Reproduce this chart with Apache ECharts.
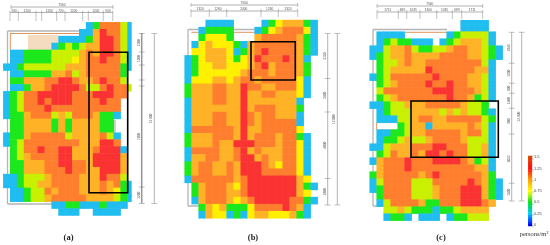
<!DOCTYPE html>
<html><head><meta charset="utf-8">
<style>html,body{margin:0;padding:0;background:#fff}#c{width:550px;height:245px}</style>
<script src="https://cdn.jsdelivr.net/npm/echarts@6/dist/echarts.min.js"></script>
</head><body><div id="c"></div>
<script>
// Density classes (persons/m2)
const levelValues = {B:0.3, G:0.5, L:0.62, Y:0.72, A:0.88, O:1.1, R:1.3};
const panelA = [
"............BGOOOLB",
"...........BBAROOLB",
"........BBBBGARROLB",
".......BGLGLAARROLB",
".BBGGGGLLLLAOARROLB",
".BBGGGGLLLYAOOROOLB",
"BBGLLLLLLAAAOOOOOGB",
".BBGGGGAAOLAOOOOOG.",
".GGAAAOORROAAOROOL.",
".BBGAAORRRROLLOROOL",
"BGLOORRRRROOORRROO.",
"BGLOORORRROOOOROO..",
"BGLOOOROOOOOOOOOO..",
"BGGAOOOLALOOOAGGB..",
".GGAAAAGAGAAAAGG...",
".GGAAAAGAGAAAAGG...",
"BGGAOOOOOLAAAAOLB..",
"BGLOOOOOOOOAAARRO..",
".GLOOROORRAAAORRRB.",
".GLAOOOORRAAARRRRA.",
".GGAAAOORROOARRRRA.",
".GGAAAOOOROOAARRRA.",
"BBGLLLAOOOOAAAROOL.",
"BBGLLAAOOOOAAAOAOGB",
".BBGLLOAOOOAAAOAYGB",
".BBGLLAOOOOOAAAALGB",
".......BBGGBBBGBBB.",
"........BBB..BBBB.."];
const panelB = [
"...BBBB....BGYAAAGB",
"..BGGGG...BGYAOOOYB",
"..GYYYG...AOOOOOAGB",
".BYAYYYGBAOOOOOOAGB",
".YYAAAYBGAOROOOOAGB",
"BGYAAAYGYAROOOROAB.",
"BGYYAAYYYAORAOOOAG.",
"BGYYYYYYAOOOAOOOAG.",
"BYYYAAYAOOAOOOOOYB.",
"GAAAOOAAROOAAOOOYB.",
"GAAAOOAARAAOOAAAYB.",
"BAAAOOAARAAAAAAAB..",
"BAAAAAAARAOOOAAAG..",
"BAAAOOAAROAOOAAAB..",
"BAAAOOAAROAOOOOOB..",
"BOOOOOOARAAOOOOOY..",
"GAAAOOOARAOOOAOOGB.",
"GAAAOAARRROOOAOOYB.",
"BOOOOAAORAOAAAOOYB.",
"BAAOOAAORRAOAAOOYB.",
"GAOOAAOARRROAYOOYB.",
"GAOOAAOARRROOOOOYB.",
"BOOOOOOAORRRRRRRAY.",
".GAOOOAYORRRRRRRAGB",
".GAOOOAAORRRRRRRAY.",
".BAOOOAYAORRRRROOGB",
"..GAYAGGGYOOOOROAB.",
"..BAYYBGBYAAYYYAGB."];
const panelC = [
".............BBBB..",
".............BBBB..",
".BBBB......BGLLLLB.",
".BGLGGBBB.BGLAAALB.",
"BBLAAOLGGLLAOOAALGB",
"BGLAAOAAAAOOOOAALGB",
".GLLAOAAOOOOOOOOLB.",
".GLAAAAAROOOOOOAAB.",
"BGLOOOOOOROOOOAALB.",
".GLAOOOOROOROOAALB.",
".LOOOOOOORRROOOALB.",
".GLAOOOOOOOROOAGLB.",
"BBGLLAAAOOOOOALLG..",
".BGLLLAAAALALALLGB.",
".BBBLLAOOAAOOOOOLG.",
"....GLAABAAAAAOALB.",
".BBGGLAAOOOOOAOOLB.",
".BGGLALLAOOOOALLLB.",
"BBLAAAOOORROOOLLAB.",
".GLOAAOARROROOLLAB.",
"BAOOOROOORRRROAGLB.",
".AOOOROOOOOOOOOAAB.",
"GAOOOOOAOROOOOOOAG.",
"BLOOOOLLLOOOOOROAGB",
"BGOOOOLLLAOOORRRAGB",
".GOOOOLLLAOOORRRAGB",
".BLOOOOAGGOOORRROA.",
"..LLALGGGBGGLAAAA..",
"..BGGB.BBB.BGGLLL.."];
const colorbarValues = [0,0.05,0.1,0.15,0.2,0.25,0.3,0.35,0.4,0.45,0.5,0.55,0.6,0.65,0.7,0.75,0.8,0.85,0.9,0.95,1,1.05,1.1,1.15,1.2,1.25,1.3,1.35,1.4,1.45,1.5];
const colorbarTicks = ["0","0.25","0.5","0.75","1","1.25","1.5"];
const panelLabels = ["(a)","(b)","(c)"];
const unitLabel = "persons/m²";

const cols = Array.from({length:19},(_,i)=>i);
function cells(rows){
  const out=[];
  rows.forEach((r,y)=>{[...r].forEach((ch,x)=>{ if(levelValues[ch]) out.push([x,y,levelValues[ch]]); });});
  return out;
}
const rowsOf = p => p.map((_,i)=>i);
const panels=[[panelA,3.33,22.3,131.1,193.2],[panelB,184.67,20,133,198.3],[panelC,369.67,17.67,133,203]];
const grids=[],xAxes=[],yAxes=[],series=[];
panels.forEach((p,i)=>{
  grids.push({left:p[1],top:p[2],width:p[3],height:p[4],containLabel:false});
  xAxes.push({gridIndex:i,type:'category',data:cols,show:false,splitArea:{show:false}});
  yAxes.push({gridIndex:i,type:'category',data:rowsOf(p[0]),inverse:true,show:false,splitArea:{show:false}});
  series.push({type:'heatmap',xAxisIndex:i,yAxisIndex:i,data:cells(p[0]),silent:true,progressive:0,itemStyle:{borderWidth:0}});
});
// colour bar
grids.push({left:528.3,top:156,width:3.6,height:70});
xAxes.push({gridIndex:3,type:'category',data:[0],show:false});
yAxes.push({gridIndex:3,type:'category',data:colorbarValues,position:'right',
  axisLine:{show:false},axisTick:{show:true,interval:4,length:2,lineStyle:{color:'#555',width:0.4}},
  axisLabel:{show:true,interval:4,margin:2,fontSize:4,color:'#444',fontFamily:'Liberation Sans',
    formatter:(v,idx)=>colorbarTicks[idx/5]||''}});
series.push({type:'heatmap',xAxisIndex:3,yAxisIndex:3,silent:true,data:colorbarValues.map((v,i)=>[0,i,v])});

// ---- annotations (plan outline, dimension lines, frames)
const g=[];
const GREY='#b5b5b5', DIM='#666';
const line=(x1,y1,x2,y2,c,w,z)=>g.push({type:'line',z:z||1,silent:true,shape:{x1,y1,x2,y2},style:{stroke:c,lineWidth:w}});
const text=(t,x,y,size,o)=>g.push(Object.assign({type:'text',z:60,silent:true,x,y,style:Object.assign({text:t,fontSize:size,fontFamily:'Liberation Sans',fill:'#555',textAlign:'center',textVerticalAlign:'middle'},o&&o.style)},o&&o.el));
function dimH(y,xs,labels,ymax){
  line(xs[0],y,xs[xs.length-1],y,DIM,0.5,60);
  xs.forEach(x=>line(x,y-2,x,ymax||y+2,DIM,0.4,60));
  labels.forEach((l,i)=>text(l,(xs[i]+xs[i+1])/2,y-1.8,3.2));
}
function dimV(x,ys,labels,dx){
  line(x,ys[0],x,ys[ys.length-1],DIM,0.5,60);
  ys.forEach(y=>line(x-3,y,x+3,y,DIM,0.4,60));
  labels.forEach((l,i)=>text(l,x+dx,(ys[i]+ys[i+1])/2,3.2,{el:{rotation:Math.PI/2}}));
}
const box=(x,y,w,h)=>g.push({type:'rect',z:70,silent:true,shape:{x,y,width:w,height:h},style:{fill:null,stroke:'#000',lineWidth:1.6}});

// panel a
dimH(7,[11,113],['7560']);
dimH(12.5,[10,18.3,36,41.7,56.7,65,82.7,88.3,103.3,112.7],['940','1200','','1200','720','1200','','1200','940'],21);
line(141.7,33,141.7,203,GREY,1.6,1);
dimV(141.7,[33.5,52,65,80,86,187,203.5],['2700','1200','','','7200','1200'],-2.2);
dimV(154.3,[33.5,203.5],['12 600'],-3.2);
line(7.5,31,80,31,GREY,1.3); line(7.5,31,7.5,204,GREY,1.3); line(7.5,204,115,204,GREY,1.3);
line(115,120,115,140,GREY,1.3);
line(10,33.5,80,33.5,'#d98a4a',0.9); line(10.3,33.5,10.3,50,'#d98a4a',0.9);
g.push({type:'rect',z:1,silent:true,shape:{x:28,y:35,width:30,height:15},style:{fill:'#f3dcc0'}});
// panel b
dimH(5,[191,297.7],['7560']);
dimH(11,[191,209.3,226.7,261,278.3,297.7],['1320','1260','2400','1260','1320'],17);
dimV(327.7,[33.5,78.5,112,178.5,205],['3150','2400','4800','2400'],-2.4);
dimV(337.3,[33.5,205],['12 800'],-3.4);
line(188,29.5,255,29.5,GREY,1.3); line(188,29.5,188,206,GREY,1.3); line(188,206,300,206,GREY,1.3);
line(191.3,32.3,255,32.3,'#d98a4a',0.9);
// panel c
dimH(6,[377,482.7],['7560']);
dimH(12,[377,398.3,406.7,420,436.7,452.3,461.7,482.7],['1711','689','1035','1300','1035','689','1711'],19);
dimV(511.7,[32.3,63.3,83.3,93.3,108.3,134,183.3,201],['2946','1200','600','1200','900','5022','1500'],-2.4);
dimV(521.7,[32.3,201],['12,600'],-3);
line(373,29.5,447,29.5,GREY,1.3); line(373,29.5,373,206,GREY,1.3); line(373,206,495,206,GREY,1.3);
line(405,32.3,447,32.3,'#d98a4a',0.9); line(376.7,122.7,376.7,129.7,'#d98a4a',0.9);
line(376.7,122.7,398,122.7,GREY,0.7); line(376.7,129.7,398,129.7,GREY,0.7);
// trim partial cells at the picture edges of the maps
g.push({type:'rect',z:50,silent:true,shape:{x:131.7,y:20,width:4,height:200},style:{fill:'#fff'}});
g.push({type:'rect',z:50,silent:true,shape:{x:455,y:16,width:35,height:4},style:{fill:'#fff'}});
// frames
box(89,52.3,38.7,140.4);
box(251,41.7,44.3,38.3);
box(411,101,87.3,56.3);
// captions
const cap={style:{fontFamily:'Liberation Serif',fontWeight:'bold',fill:'#222'}};
text(panelLabels[0],68.5,238,8.5,cap);
text(panelLabels[1],253,238,8.5,cap);
text(panelLabels[2],441,238,8.5,cap);
text(unitLabel,534,234.5,6.5,{style:{fontFamily:'Liberation Serif',fill:'#333'}});

const chart=echarts.init(document.getElementById('c'),null,{renderer:'canvas'});
chart.setOption({
  animation:false,backgroundColor:'#fff',
  grid:grids,xAxis:xAxes,yAxis:yAxes,series,
  visualMap:[
   {type:'piecewise',show:false,seriesIndex:[0,1,2],dimension:2,pieces:[
     {value:levelValues.B,color:'#1fbdf0'},{value:levelValues.G,color:'#1ce81c'},
     {value:levelValues.L,color:'#c8f000'},{value:levelValues.Y,color:'#fff000'},
     {value:levelValues.A,color:'#ffb226'},{value:levelValues.O,color:'#ff7e2e'},
     {value:levelValues.R,color:'#fb3232'}]},
   {type:'continuous',show:false,seriesIndex:3,dimension:2,min:0,max:1.5,
     inRange:{color:['#0000ff','#00c8ff','#00e020','#ffff00','#ffa000','#ff1010','#e04000']}}
  ],
  graphic:{elements:g}
});
</script></body></html>
